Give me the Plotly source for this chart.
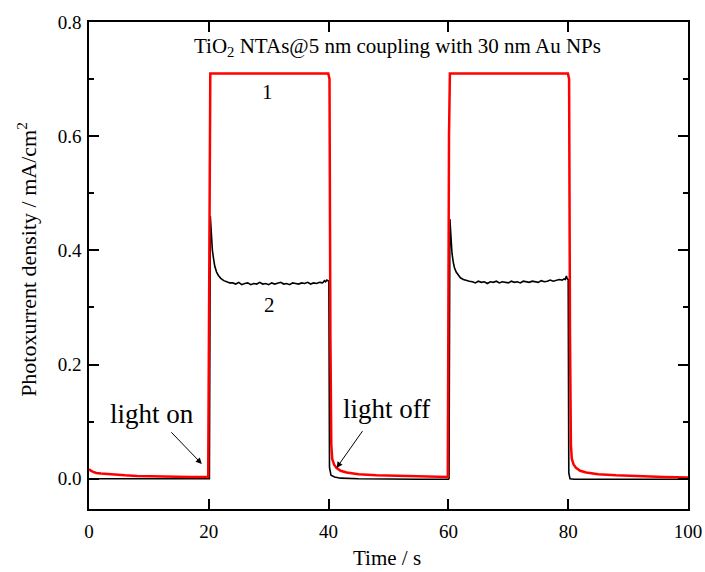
import plotly.graph_objects as go

# Curve 1 (red)
t1 = [0, 0.3, 0.7, 1.2, 2, 3, 4, 6, 8, 11, 14, 17, 19.9,
      20.1, 20.25, 39.95, 40.15, 40.3, 40.45, 40.6, 40.9, 41.3, 42, 43, 45, 48, 52, 56, 59.9,
      60.1, 60.25, 79.95, 80.15, 80.3, 80.45, 80.6, 80.9, 81.3, 82, 83, 85, 88, 92, 96, 100]
i1 = [0.017, 0.014, 0.012, 0.010, 0.009, 0.008, 0.007, 0.006, 0.005, 0.004, 0.004, 0.003, 0.003,
      0.60, 0.71, 0.71, 0.70, 0.25, 0.06, 0.035, 0.025, 0.019, 0.014, 0.011, 0.008, 0.006, 0.005, 0.004, 0.003,
      0.60, 0.71, 0.71, 0.70, 0.25, 0.06, 0.035, 0.025, 0.019, 0.014, 0.011, 0.008, 0.006, 0.004, 0.003, 0.002]

# Curve 2 (black)
t2 = [0, 19.95, 20.1, 20.25, 20.4, 20.6, 20.8, 21.0, 21.3, 21.6, 22.0, 22.5, 23.0, 23.5,
      24, 24.5, 25, 25.5, 26, 26.5, 27, 27.5, 28, 28.5, 29, 29.5, 30, 30.5, 31, 31.5,
      32, 32.5, 33, 33.5, 34, 34.5, 35, 35.5, 36, 36.5, 37, 37.5, 38, 38.5, 39, 39.3,
      39.5, 39.7, 39.9, 40.05, 40.15, 40.4, 41, 42, 45, 50, 55, 60.0,
      60.1, 60.25, 60.4, 60.6, 60.8, 61.0, 61.3, 61.6, 62.0, 62.5, 63.0, 63.5,
      64, 64.5, 65, 65.5, 66, 66.5, 67, 67.5, 68, 68.5, 69, 69.5, 70, 70.5, 71, 71.5,
      72, 72.5, 73, 73.5, 74, 74.5, 75, 75.5, 76, 76.5, 77, 77.5, 78, 78.5, 79, 79.3,
      79.5, 79.7, 79.85, 80.0, 80.1, 80.3, 81, 82, 85, 90, 95, 100]
i2 = [0.0, 0.0, 0.0, 0.46, 0.43, 0.40, 0.385, 0.372, 0.362, 0.356, 0.351, 0.347, 0.345, 0.343,
      0.343, 0.341, 0.344, 0.340, 0.342, 0.343, 0.340, 0.342, 0.341, 0.344, 0.341, 0.342, 0.340, 0.343, 0.341, 0.342,
      0.344, 0.341, 0.342, 0.340, 0.343, 0.342, 0.341, 0.343, 0.342, 0.344, 0.341, 0.343, 0.342, 0.344, 0.343, 0.347,
      0.345, 0.348, 0.346, 0.346, 0.02, 0.006, 0.003, 0.001, 0.0, -0.001, -0.001, -0.001,
      0.0, 0.455, 0.42, 0.395, 0.38, 0.37, 0.362, 0.357, 0.352, 0.349, 0.347, 0.346,
      0.345, 0.343, 0.346, 0.344, 0.345, 0.342, 0.345, 0.344, 0.346, 0.343, 0.345, 0.344, 0.343, 0.346, 0.344, 0.345,
      0.343, 0.346, 0.345, 0.344, 0.346, 0.345, 0.344, 0.347, 0.345, 0.346, 0.348, 0.346, 0.347, 0.349, 0.348, 0.350,
      0.349, 0.355, 0.350, 0.349, 0.01, 0.0, -0.001, -0.001, -0.001, -0.001, -0.001, -0.001]

x_ticks = [0, 20, 40, 60, 80, 100]
y_ticks = [0.0, 0.2, 0.4, 0.6, 0.8]

FONT = "Liberation Serif"

fig = go.Figure()
fig.add_trace(go.Scatter(x=t2, y=i2, mode="lines", line=dict(color="black", width=1.6), showlegend=False))
fig.add_trace(go.Scatter(x=t1, y=i1, mode="lines", line=dict(color="#ff0000", width=2.5), showlegend=False))

axis_common = dict(showline=True, linecolor="black", linewidth=1.5, mirror="allticks",
                   ticks="inside", tickcolor="black", tickwidth=1.5, ticklen=10,
                   showgrid=False, zeroline=False, automargin=False,
                   tickfont=dict(family=FONT, size=19, color="black"))

fig.update_xaxes(range=[0, 100], tickvals=x_ticks, ticktext=[str(v) for v in x_ticks],
                 ticklabelstandoff=4, **axis_common)
fig.update_yaxes(range=[-0.053, 0.8], tickvals=y_ticks, ticktext=[f"{v:.1f}" for v in y_ticks],
                 minor=dict(dtick=0.1, tick0=0.1, ticks="inside", ticklen=5, tickcolor="black", tickwidth=1.5),
                 ticklabelstandoff=2, **axis_common)

title_font = dict(family=FONT, size=21, color="black")
ann_font = dict(family=FONT, size=21, color="black")
big_font = dict(family=FONT, size=27, color="black")

# axis titles
fig.add_annotation(xref="paper", yref="paper", x=0.4975, y=-0.1006, text="Time / s",
                   showarrow=False, font=title_font, xanchor="center", yanchor="middle")
fig.add_annotation(xref="paper", yref="paper", x=-0.104, y=0.513,
                   text="Photoxurrent density / mA/cm<sup>2</sup>", textangle=-90,
                   showarrow=False, font=dict(family=FONT, size=22, color="black"),
                   xanchor="center", yanchor="middle")

fig.add_annotation(x=51.5, y=0.756, text="TiO<sub>2</sub> NTAs@5 nm coupling with 30 nm Au NPs",
                   showarrow=False, font=ann_font)
fig.add_annotation(x=29.8, y=0.677, text="1", showarrow=False, font=ann_font)
fig.add_annotation(x=30.2, y=0.3035, text="2", showarrow=False, font=ann_font)
fig.add_annotation(x=10.5, y=0.114, text="light on", showarrow=False, font=big_font)
fig.add_annotation(x=49.7, y=0.123, text="light off", showarrow=False, font=big_font)
fig.add_annotation(x=18.83, y=0.026, ax=13.5, ay=0.084, axref="x", ayref="y", xref="x", yref="y",
                   text="", showarrow=True, arrowhead=2, arrowsize=1.2, arrowwidth=1, arrowcolor="black")
fig.add_annotation(x=41.33, y=0.019, ax=45.83, ay=0.086, axref="x", ayref="y", xref="x", yref="y",
                   text="", showarrow=True, arrowhead=2, arrowsize=1.2, arrowwidth=1, arrowcolor="black")

fig.update_layout(width=705, height=572, margin=dict(l=89, r=17, t=22, b=63, autoexpand=False),
                  plot_bgcolor="white", paper_bgcolor="white",
                  font=dict(family=FONT, color="black"))

fig.write_html("out.html", config={"displayModeBar": False},
               post_script="document.body.style.margin='0';document.body.style.overflow='hidden';")
